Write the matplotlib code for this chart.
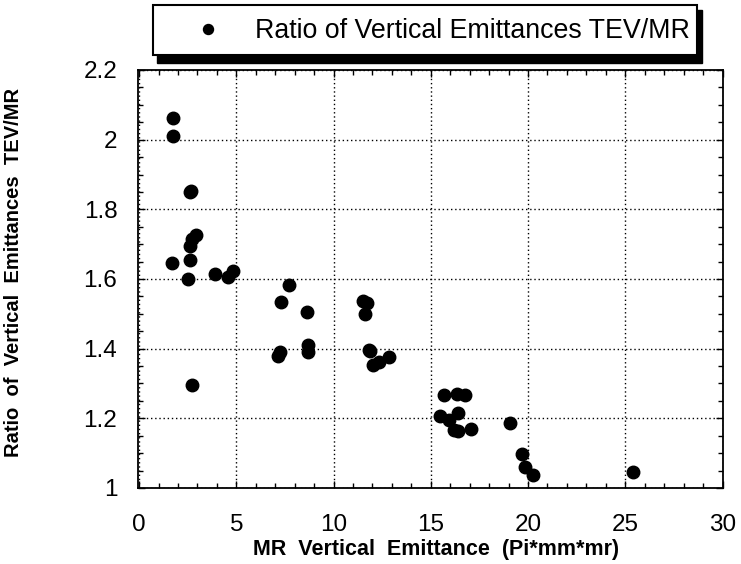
import matplotlib
matplotlib.use("Agg")
import matplotlib.pyplot as plt
from matplotlib.patches import Rectangle
from matplotlib.ticker import MultipleLocator, FormatStrFormatter

plt.rcParams['font.family'] = ['Liberation Sans', 'DejaVu Sans']

# MR vertical emittance (Pi*mm*mr)
mr_emittance = [1.76, 1.76, 2.62, 2.69, 2.92, 2.72, 2.64, 1.70, 2.62, 2.50,
                3.92, 4.59, 4.83, 2.74, 7.73, 7.32, 8.62, 7.13, 7.23, 8.70,
                8.70, 11.50, 11.72, 11.62, 11.81, 11.88, 12.02, 12.32, 12.84,
                15.70, 16.37, 16.76, 15.48, 15.92, 16.39, 16.21, 16.42, 17.07,
                19.07, 19.69, 19.85, 20.26, 25.40]
# Ratio of vertical emittances TEV/MR
ratio = [2.062, 2.010, 1.849, 1.853, 1.727, 1.715, 1.695, 1.646, 1.654, 1.600,
         1.615, 1.606, 1.624, 1.295, 1.582, 1.533, 1.504, 1.380, 1.389, 1.410,
         1.391, 1.538, 1.530, 1.499, 1.396, 1.392, 1.353, 1.361, 1.376,
         1.267, 1.269, 1.266, 1.207, 1.196, 1.215, 1.167, 1.165, 1.168,
         1.187, 1.097, 1.059, 1.037, 1.047]

series_label = "Ratio of Vertical Emittances TEV/MR"
x_label = "MR  Vertical  Emittance  (Pi*mm*mr)"
y_label = "Ratio  of  Vertical  Emittances  TEV/MR"

W, H = 741, 564
fig = plt.figure(figsize=(W / 100, H / 100), dpi=100)
ax = fig.add_axes([137.5 / W, 1 - 488 / H, 585 / W, 418 / H])

line, = ax.plot(mr_emittance, ratio, 'o', color='black', ms=9, label=series_label)

ax.set_xlim(-0.08, 30)
ax.set_ylim(1.0, 2.2)
ax.xaxis.set_major_locator(MultipleLocator(5))
ax.xaxis.set_minor_locator(MultipleLocator(1))
ax.yaxis.set_major_locator(MultipleLocator(0.2))
ax.yaxis.set_minor_locator(MultipleLocator(0.05))
ax.yaxis.set_major_formatter(FormatStrFormatter('%g'))
ax.tick_params(which='both', direction='in', top=True, right=True, width=1, colors='black')
ax.tick_params(which='major', length=5)
ax.tick_params(which='minor', length=3.5)
ax.tick_params(axis='x', which='major', pad=19, labelsize=17.5)
ax.tick_params(axis='y', which='major', pad=14.5, labelsize=17.5)
for s in ax.spines.values():
    s.set_linewidth(1.3)
ax.grid(True, which='major', color='black', linestyle=(0, (1, 2)), linewidth=1)

ax.set_xlabel(x_label, fontsize=15.5, fontweight='bold', va='center')
ax.xaxis.set_label_coords((436 - 137.5) / 585, (488 - 549) / 418)
ax.set_ylabel(y_label, fontsize=14.5, fontweight='bold', va='center')
ax.yaxis.set_label_coords((14 - 137.5) / 585, (488 - 272) / 418)

# legend box with drop shadow
shadow = Rectangle((157 / W, 1 - 63 / H), (702 - 157) / W, (63 - 10) / H,
                   transform=fig.transFigure, facecolor='black', edgecolor='black', zorder=1)
box = Rectangle((152.7 / W, 1 - 55 / H), (696.7 - 152.7) / W, (55 - 4.7) / H,
                transform=fig.transFigure, facecolor='white', edgecolor='black',
                linewidth=1.5, zorder=2)
fig.patches.extend([shadow, box])
leg = fig.legend(handles=[line], loc='center left', bbox_to_anchor=(195 / W, 1 - 31 / H),
                 frameon=False, fontsize=19.3, markerscale=0.8, handlelength=1.0,
                 handletextpad=1.25, borderpad=0, borderaxespad=0)
leg.set_zorder(3)

fig.savefig("out.png", dpi=100)
